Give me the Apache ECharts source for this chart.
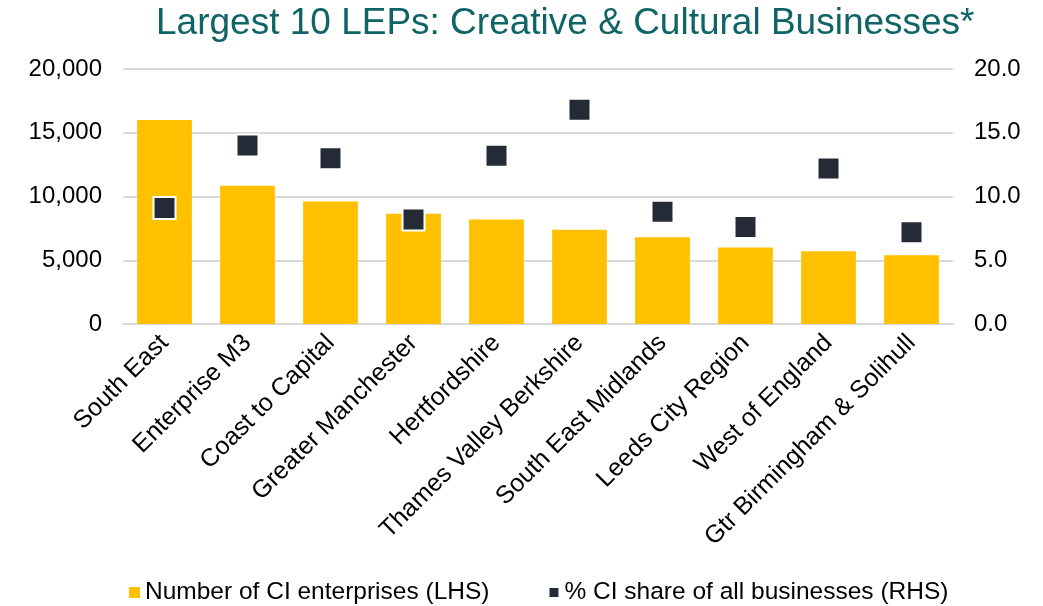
<!DOCTYPE html>
<html>
<head>
<meta charset="utf-8">
<script src="https://cdn.jsdelivr.net/npm/echarts@6/dist/echarts.min.js"></script>
<style>
html,body{margin:0;padding:0;background:#fff;}
#chart{width:1043px;height:606px;}
</style>
</head>
<body>
<div id="chart"></div>
<script>
const categories = ["South East","Enterprise M3","Coast to Capital","Greater Manchester","Hertfordshire","Thames Valley Berkshire","South East Midlands","Leeds City Region","West of England","Gtr Birmingham & Solihull"];
const enterprises = [16000,10850,9600,8650,8200,7400,6800,6000,5700,5400];
const sharePct = [9.1,14.0,13.0,8.2,13.2,16.8,8.8,7.6,12.2,7.2];
const titleText = "Largest 10 LEPs: Creative & Cultural Businesses*";
const seriesNames = ["Number of CI enterprises (LHS)","% CI share of all businesses (RHS)"];

const chart = echarts.init(document.getElementById('chart'));
const font = "'Liberation Sans', Arial, sans-serif";
chart.setOption({
  animation:false,
  backgroundColor:'#fff',
  title:{text:titleText,left:151,top:0,textStyle:{fontFamily:font,fontSize:37,fontWeight:'normal',color:'#0F6466'}},
  grid:{left:123,right:90,top:69,bottom:282,containLabel:false},
  legend:{top:575,left:124,itemWidth:11,itemHeight:11,itemGap:58,icon:'rect',
    textStyle:{fontFamily:font,fontSize:24.5,color:'#000'},data:seriesNames},
  xAxis:{type:'category',data:categories,
    axisLine:{show:true,lineStyle:{color:'#D9D9D9',width:2}},axisTick:{show:false},
    axisLabel:{interval:0,rotate:45,fontFamily:font,fontSize:25,color:'#000',margin:15}},
  yAxis:[
    {type:'value',min:0,max:20000,interval:5000,
     axisLine:{show:false},axisTick:{show:false},
     splitLine:{lineStyle:{color:'#D9D9D9',width:2}},
     axisLabel:{fontFamily:font,fontSize:24,color:'#000',margin:21,
       formatter:v=>v.toLocaleString('en-US')}},
    {type:'value',min:0,max:20,interval:5,position:'right',
     axisLine:{show:false},axisTick:{show:false},splitLine:{show:false},
     axisLabel:{fontFamily:font,fontSize:24,color:'#000',margin:21,
       formatter:v=>v.toFixed(1)}}
  ],
  series:[
    {name:seriesNames[0],type:'bar',data:enterprises,barWidth:'66%',
     itemStyle:{color:'#FFC000'},yAxisIndex:0},
    {name:seriesNames[1],type:'scatter',data:sharePct,yAxisIndex:1,
     symbol:'rect',symbolSize:22,
     itemStyle:{color:'#252B36',borderColor:'#fff',borderWidth:2,opacity:1}}
  ]
});
</script>
</body>
</html>
